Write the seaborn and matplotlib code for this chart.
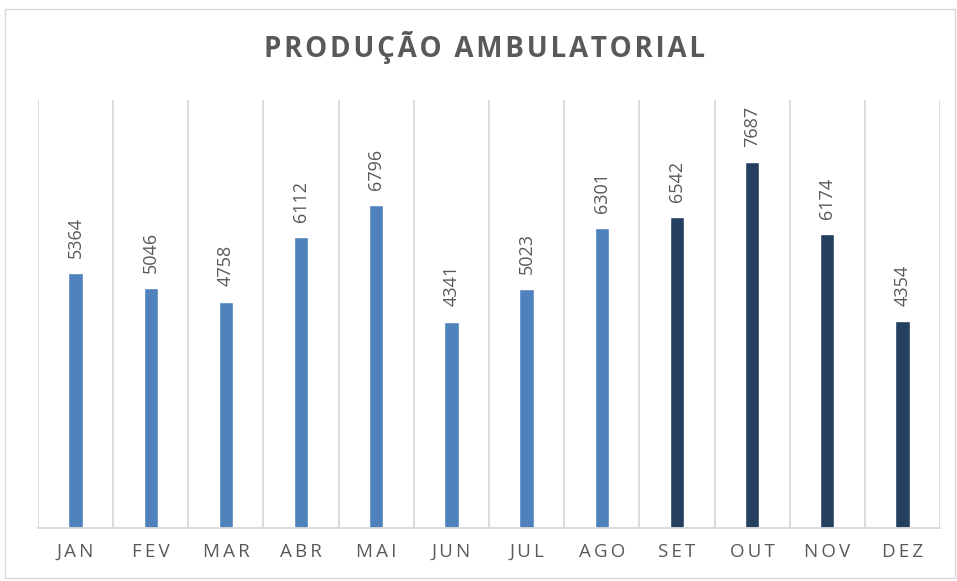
import matplotlib
matplotlib.use("Agg")
import matplotlib.pyplot as plt
import seaborn as sns
from matplotlib.patches import Rectangle

months = ["JAN", "FEV", "MAR", "ABR", "MAI", "JUN", "JUL", "AGO", "SET", "OUT", "NOV", "DEZ"]
values = [5364, 5046, 4758, 6112, 6796, 4341, 5023, 6301, 6542, 7687, 6174, 4354]
light = "#4F81BD"
dark = "#243F60"
colors = [light] * 8 + [dark] * 4
title = "PRODUÇÃO AMBULATORIAL"

sns.set_theme(style="white")
plt.rcParams["font.family"] = ["Open Sans", "DejaVu Sans"]

fig = plt.figure(figsize=(9.57, 5.81), dpi=100)
ax = fig.add_axes([38 / 957, 53 / 581, (940 - 38) / 957, (528 - 100) / 581])

sns.barplot(x=months, y=values, hue=months, palette=colors, width=0.19,
            legend=False, ax=ax, saturation=1)

for c in ax.containers:
    ax.bar_label(c, rotation=90, padding=11, color="#595959", fontsize=13)

ax.set_ylim(0, 9000)
ax.set_xlim(-0.5, 11.5)
ax.set_yticks([])
ax.set_xticks(range(12))
ax.set_xticklabels(["\u2009".join(m) for m in months], color="#595959", fontsize=13.5)
ax.tick_params(axis="x", length=0, pad=11)
ax.set_xticks([i - 0.5 for i in range(13)], minor=True)
ax.tick_params(axis="x", which="minor", length=0)
ax.grid(False)
ax.grid(True, axis="x", which="minor", color="#D9D9D9", linewidth=1.3)
ax.set_axisbelow(True)
for s in ["top", "right", "left"]:
    ax.spines[s].set_visible(False)
ax.spines["bottom"].set_color("#D9D9D9")
ax.spines["bottom"].set_linewidth(1.3)
ax.set_xlabel("")
ax.set_ylabel("")

fig.text(485 / 957, 1 - 48 / 581, "\u200a".join(title), ha="center", va="center",
         fontsize=20, fontweight="bold", color="#595959")

fig.patches.append(Rectangle((5 / 957, 3 / 581), 950 / 957, 569 / 581, transform=fig.transFigure,
                             fill=False, edgecolor="#D9D9D9", linewidth=1))

fig.savefig("out.png", dpi=100)
